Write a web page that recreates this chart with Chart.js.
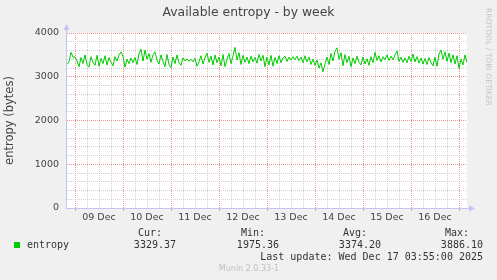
<!DOCTYPE html>
<html>
<head>
<meta charset="utf-8">
<script src="https://cdn.jsdelivr.net/npm/chart.js@4"></script>
<style>
  html, body { margin: 0; padding: 0; background: #f0f0f0; }
  #wrap { width: 497px; height: 280px; }
</style>
</head>
<body>
<div id="wrap"><canvas id="entropyChart" width="497" height="280"></canvas></div>
<script>
// hours relative to 09 Dec 00:00, one sample per hour
const startHour = -4;
const entropy = [
  3280, 3340, 3560, 3450,
  // 09 Dec
  3450, 3360, 3230, 3440, 3300, 3500, 3270, 3220, 3460, 3330, 3260, 3490,
  3240, 3420, 3300, 3480, 3270, 3440, 3330, 3250, 3460, 3360, 3500, 3570,
  // 10 Dec
  3470, 3220, 3400, 3300, 3430, 3320, 3440, 3280, 3520, 3630, 3360, 3610,
  3400, 3530, 3330, 3500, 3570, 3380, 3290, 3500, 3350, 3230, 3510, 3280,
  // 11 Dec
  3210, 3450, 3300, 3500, 3320, 3260, 3430, 3360, 3410, 3350, 3400, 3340,
  3420, 3240, 3340, 3480, 3290, 3440, 3540, 3330, 3470, 3270, 3500, 3320,
  // 12 Dec
  3450, 3250, 3510, 3230, 3400, 3530, 3300, 3480, 3670, 3380, 3550, 3280,
  3490, 3330, 3450, 3300, 3470, 3340, 3440, 3310, 3510, 3360, 3490, 3230,
  // 13 Dec
  3450, 3270, 3490, 3240, 3440, 3300, 3480, 3320, 3430, 3470, 3350, 3450,
  3380, 3460, 3390, 3470, 3370, 3450, 3320, 3480, 3340, 3450, 3280, 3400,
  // 14 Dec
  3260, 3380, 3200, 3320, 3110, 3290, 3450, 3280, 3530, 3360, 3580, 3660,
  3400, 3550, 3250, 3510, 3320, 3470, 3230, 3430, 3300, 3470, 3330, 3270,
  // 15 Dec
  3450, 3290, 3410, 3260, 3460, 3320, 3560, 3370, 3480, 3340, 3460, 3390,
  3500, 3370, 3470, 3390, 3500, 3590, 3350, 3450, 3330, 3430, 3320, 3470,
  // 16 Dec
  3350, 3520, 3340, 3460, 3310, 3430, 3290, 3420, 3280, 3440, 3320, 3250,
  3450, 3240, 3520, 3610, 3400, 3570, 3350, 3540, 3320, 3500, 3290, 3480,
  // 17 Dec
  3190, 3400, 3270, 3500, 3330
];
const dayLabels = ['09 Dec', '10 Dec', '11 Dec', '12 Dec', '13 Dec', '14 Dec', '15 Dec', '16 Dec'];
const yTicks = [0, 1000, 2000, 3000, 4000];
const legendHeaders = ['Cur:', 'Min:', 'Avg:', 'Max:'];
const legendValues = ['3329.37', '1975.36', '3374.20', '3886.10'];
const lastUpdate = 'Last update: Wed Dec 17 03:55:00 2025';

const points = entropy.map((v, i) => ({ x: startHour + i, y: v }));

const AXIS = '#c4c4f4';
const MAJOR = '#f29494';
const MINOR = '#d0d0d0';

// white plot area, axis arrows and all the rrdtool style text
const munin = {
  id: 'munin',
  beforeDraw(chart) {
    const { ctx, chartArea: a } = chart;
    ctx.save();
    ctx.fillStyle = '#ffffff';
    ctx.fillRect(a.left, a.top, a.right - a.left, a.bottom - a.top);
    ctx.restore();
  },
  afterDraw(chart) {
    const { ctx, chartArea: a } = chart;
    ctx.save();
    // axes
    ctx.strokeStyle = AXIS;
    ctx.fillStyle = AXIS;
    ctx.lineWidth = 1;
    ctx.beginPath();
    ctx.moveTo(a.left - 0.5, a.bottom + 0.5);
    ctx.lineTo(a.left - 0.5, a.top - 5);
    ctx.moveTo(a.left - 0.5, a.bottom + 0.5);
    ctx.lineTo(a.right + 4, a.bottom + 0.5);
    ctx.stroke();
    ctx.beginPath();
    ctx.moveTo(a.left - 0.5, a.top - 9);
    ctx.lineTo(a.left - 3.5, a.top - 3);
    ctx.lineTo(a.left + 2.5, a.top - 3);
    ctx.closePath();
    ctx.fill();
    ctx.beginPath();
    ctx.moveTo(a.right + 8, a.bottom + 0.5);
    ctx.lineTo(a.right + 2, a.bottom - 2.5);
    ctx.lineTo(a.right + 2, a.bottom + 3.5);
    ctx.closePath();
    ctx.fill();

    // title
    ctx.fillStyle = '#444';
    ctx.font = '12.4px "DejaVu Sans"';
    ctx.textAlign = 'center';
    ctx.textBaseline = 'middle';
    ctx.fillText('Available entropy - by week', 248.5, 13);

    // y axis title
    ctx.save();
    ctx.translate(10, (a.top + a.bottom) / 2);
    ctx.rotate(-Math.PI / 2);
    ctx.fillStyle = '#444';
    ctx.font = '11.5px "DejaVu Sans"';
    ctx.fillText('entropy (bytes)', 0, 0);
    ctx.restore();

    // vertical credit
    ctx.save();
    ctx.translate(488, 57);
    ctx.rotate(Math.PI / 2);
    ctx.fillStyle = '#c4c4c4';
    ctx.font = '7.6px "DejaVu Sans"';
    ctx.fillText('RRDTOOL / TOBI OETIKER', 0, 0);
    ctx.restore();

    // legend
    ctx.fillStyle = '#00cc00';
    ctx.fillRect(14, 242, 6, 6);
    ctx.fillStyle = '#333';
    ctx.font = '10px "DejaVu Sans Mono"';
    ctx.textAlign = 'left';
    ctx.fillText('entropy', 27, 245.5);
    const headRight = [162, 265, 367, 469];
    const valRight = [176, 279, 381, 483];
    ctx.textAlign = 'right';
    legendHeaders.forEach((h, i) => ctx.fillText(h, headRight[i], 233.5));
    legendValues.forEach((v, i) => ctx.fillText(v, valRight[i], 245.5));
    ctx.fillText(lastUpdate, 483, 257.5);

    ctx.fillStyle = '#c0c0c0';
    ctx.font = '8px "DejaVu Sans"';
    ctx.textAlign = 'center';
    ctx.fillText('Munin 2.0.33-1', 249, 269);
    ctx.restore();
  }
};

const isMidnight = c => c.tick && c.tick.value % 24 === 0;

new Chart(document.getElementById('entropyChart'), {
  type: 'line',
  data: {
    datasets: [{
      label: 'entropy',
      data: points,
      borderColor: '#00cc00',
      borderWidth: 1,
      pointRadius: 0,
      tension: 0,
      fill: false
    }]
  },
  options: {
    responsive: false,
    animation: false,
    devicePixelRatio: 1,
    layout: { padding: { left: 0, top: 33, right: 30, bottom: 0 } },
    plugins: { legend: { display: false }, title: { display: false }, tooltip: { enabled: false } },
    scales: {
      x: {
        type: 'linear',
        min: startHour,
        max: startHour + entropy.length - 1,
        afterFit: s => { s.height = 72; },
        border: { display: false, dash: [1, 1] },
        grid: {
          drawTicks: true,
          tickLength: 3,
          color: c => (isMidnight(c) ? MAJOR : MINOR),
          tickColor: c => (isMidnight(c) ? MAJOR : 'rgba(0,0,0,0)')
        },
        ticks: {
          stepSize: 6,
          includeBounds: false,
          autoSkip: false,
          maxRotation: 0,
          padding: 1,
          color: '#444',
          font: { family: 'DejaVu Sans', size: 9.5 },
          callback: v => (v % 24 === 12 ? dayLabels[(v - 12) / 24] : '')
        }
      },
      y: {
        min: 0,
        max: 4000,
        afterFit: s => { s.width = 67; },
        border: { display: false, dash: [1, 1] },
        grid: {
          drawTicks: false,
          color: c => (c.tick && c.tick.value % 1000 === 0 ? MAJOR : MINOR)
        },
        ticks: {
          stepSize: 200,
          autoSkip: false,
          padding: 8,
          color: '#444',
          font: { family: 'DejaVu Sans', size: 9.5 },
          callback: v => (yTicks.includes(v) ? String(v) : '')
        }
      }
    }
  },
  plugins: [munin]
});
</script>
</body>
</html>
